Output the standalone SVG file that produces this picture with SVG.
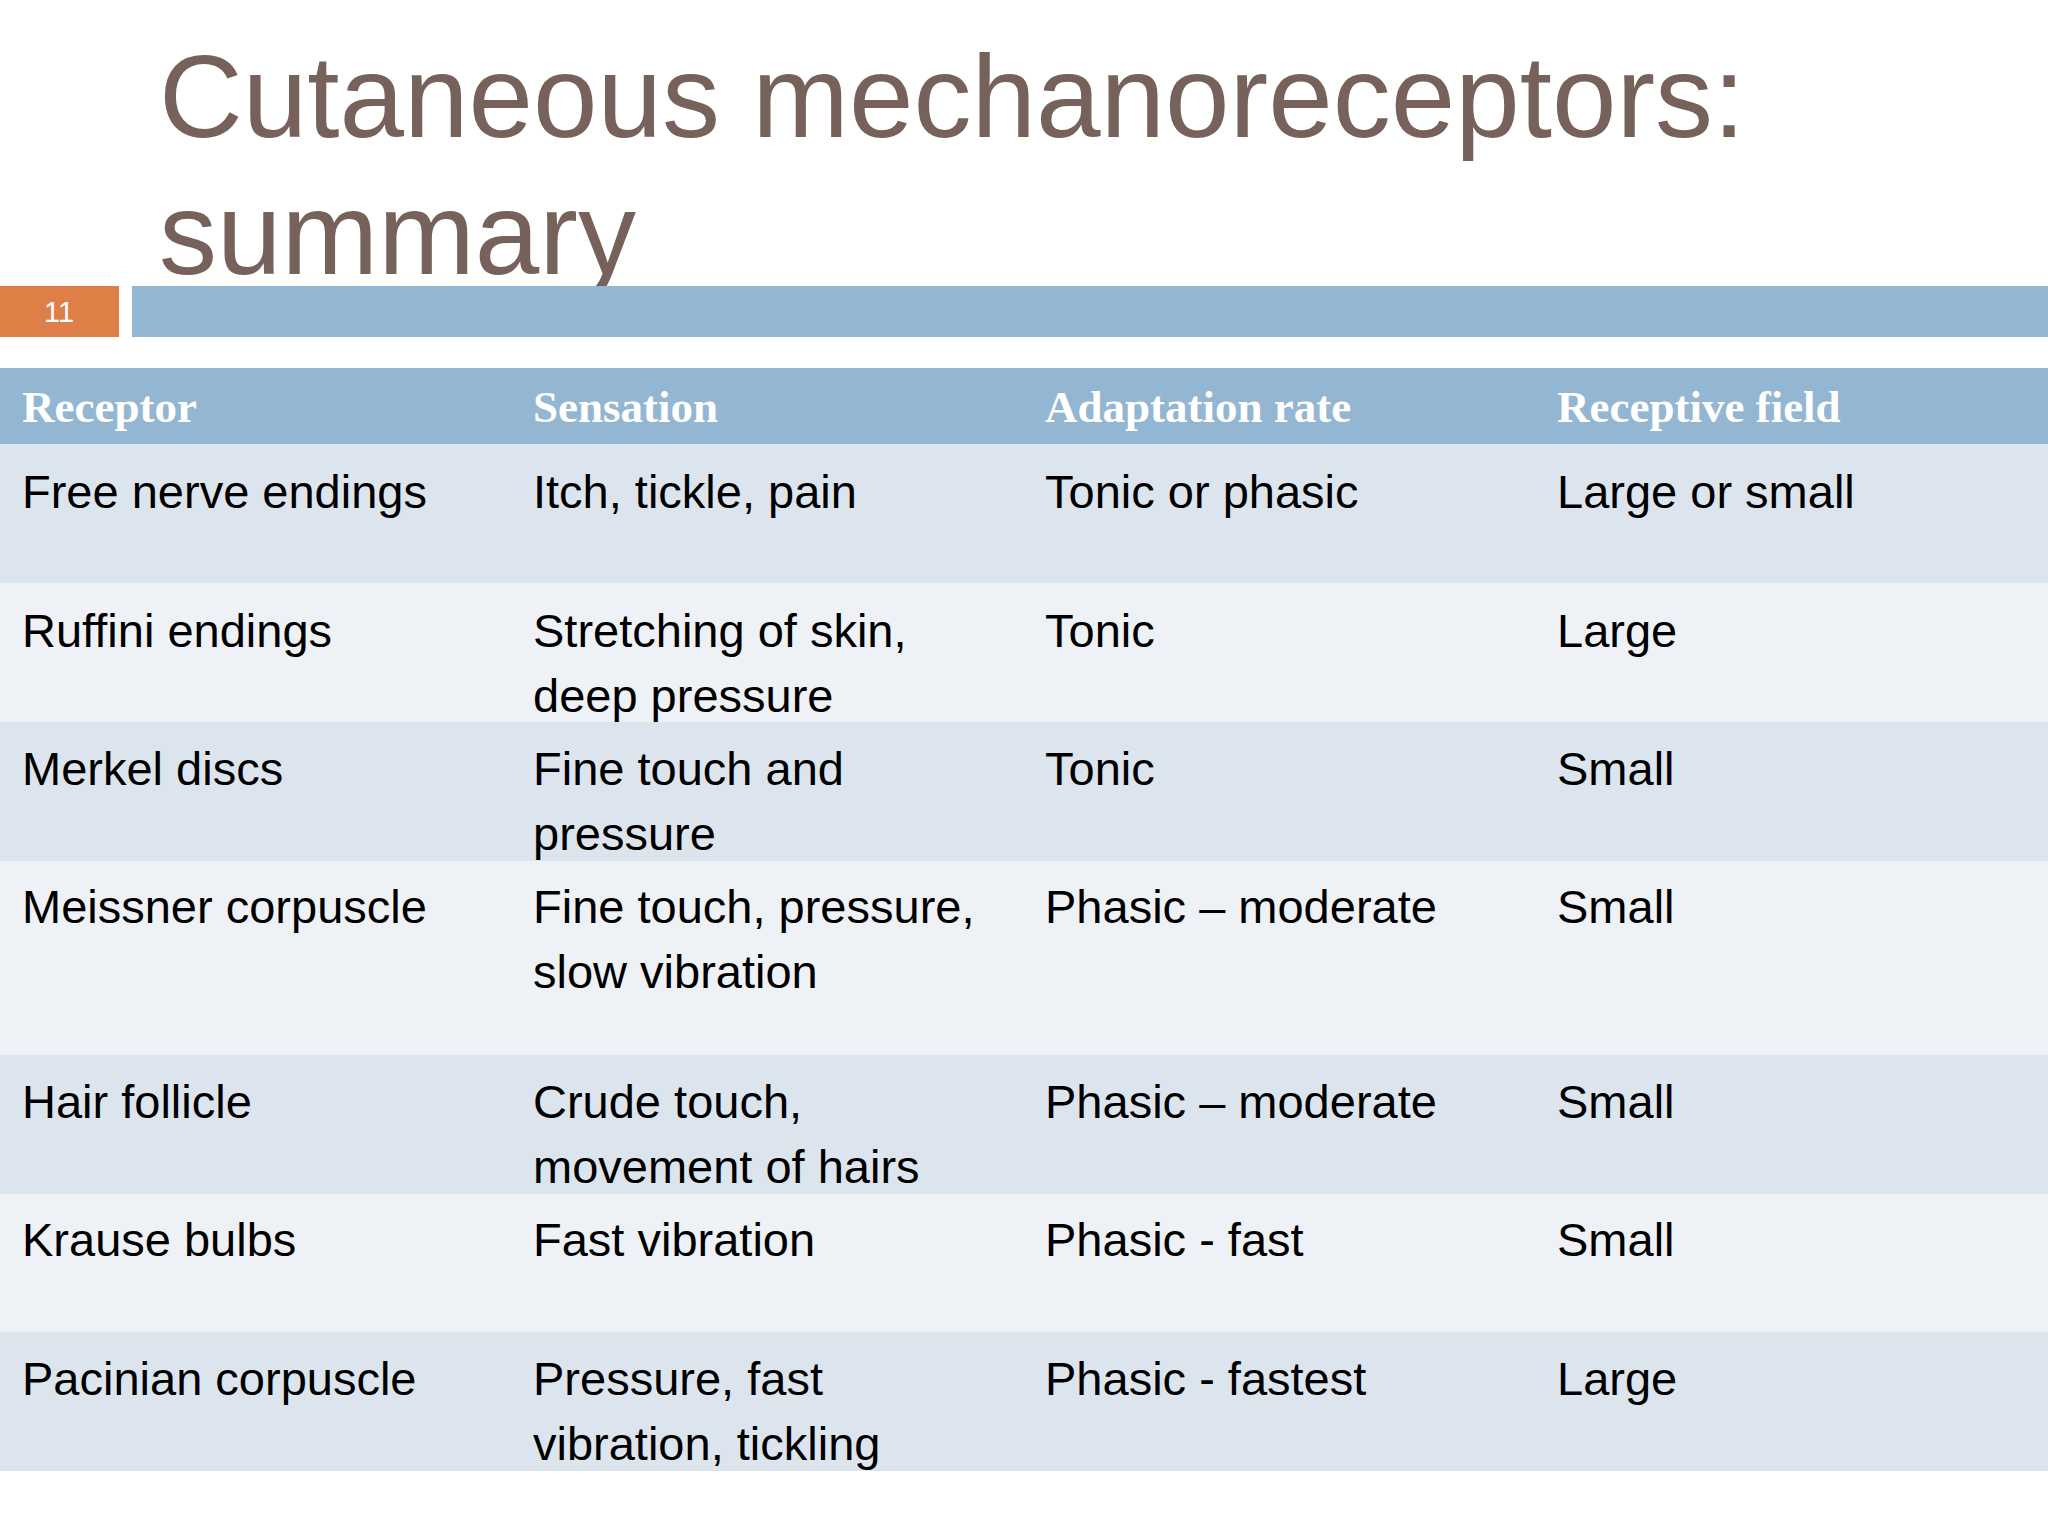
<svg xmlns="http://www.w3.org/2000/svg" width="2048" height="1536" viewBox="0 0 2048 1536">
<style>
.t{font-family:"Liberation Sans",Arial,sans-serif;font-size:116px;fill:#76625a}
.h{font-family:"Liberation Serif","Times New Roman",serif;font-weight:bold;font-size:45px;fill:#fff}
.b{font-family:"Liberation Sans",Arial,sans-serif;font-size:47px;fill:#000}
.d{fill:#dce5ee}.l{fill:#eef2f6}
</style>
<rect width="2048" height="1536" fill="#fff"/>
<g id="title"><text class="t" x="159" y="137">Cutaneous mechanoreceptors:</text><text class="t" x="159" y="274">summary</text></g>
<g id="bar"><rect x="0" y="286" width="119" height="51" fill="#de7f48"/><text x="59" y="322" text-anchor="middle" font-family="Liberation Sans,Arial,sans-serif" font-size="29" fill="#fff">11</text><rect x="132" y="286" width="1916" height="51" fill="#93b6d2"/></g>
<g id="table">
<rect x="0" y="368" width="2048" height="76" fill="#93b6d2"/>
<rect class="d" x="0" y="444" width="2048" height="139"/>
<rect class="l" x="0" y="583" width="2048" height="139"/>
<rect class="d" x="0" y="722" width="2048" height="139"/>
<rect class="l" x="0" y="861" width="2048" height="194"/>
<rect class="d" x="0" y="1055" width="2048" height="139"/>
<rect class="l" x="0" y="1194" width="2048" height="138"/>
<rect class="d" x="0" y="1332" width="2048" height="139"/>
<text class="h" x="22" y="422">Receptor</text><text class="h" x="533" y="422">Sensation</text><text class="h" x="1045" y="422">Adaptation rate</text><text class="h" x="1557" y="422">Receptive field</text>
<g class="b">
<text x="22" y="508">Free nerve endings</text><text x="533" y="508">Itch, tickle, pain</text><text x="1045" y="508">Tonic or phasic</text><text x="1557" y="508">Large or small</text>
<text x="22" y="647">Ruffini endings</text><text x="533" y="647">Stretching of skin,</text><text x="533" y="712">deep pressure</text><text x="1045" y="647">Tonic</text><text x="1557" y="647">Large</text>
<text x="22" y="785">Merkel discs</text><text x="533" y="785">Fine touch and</text><text x="533" y="850">pressure</text><text x="1045" y="785">Tonic</text><text x="1557" y="785">Small</text>
<text x="22" y="923">Meissner corpuscle</text><text x="533" y="923">Fine touch, pressure,</text><text x="533" y="988">slow vibration</text><text x="1045" y="923">Phasic – moderate</text><text x="1557" y="923">Small</text>
<text x="22" y="1118">Hair follicle</text><text x="533" y="1118">Crude touch,</text><text x="533" y="1183">movement of hairs</text><text x="1045" y="1118">Phasic – moderate</text><text x="1557" y="1118">Small</text>
<text x="22" y="1256">Krause bulbs</text><text x="533" y="1256">Fast vibration</text><text x="1045" y="1256">Phasic - fast</text><text x="1557" y="1256">Small</text>
<text x="22" y="1395">Pacinian corpuscle</text><text x="533" y="1395">Pressure, fast</text><text x="533" y="1460">vibration, tickling</text><text x="1045" y="1395">Phasic - fastest</text><text x="1557" y="1395">Large</text>
</g></g>
</svg>
